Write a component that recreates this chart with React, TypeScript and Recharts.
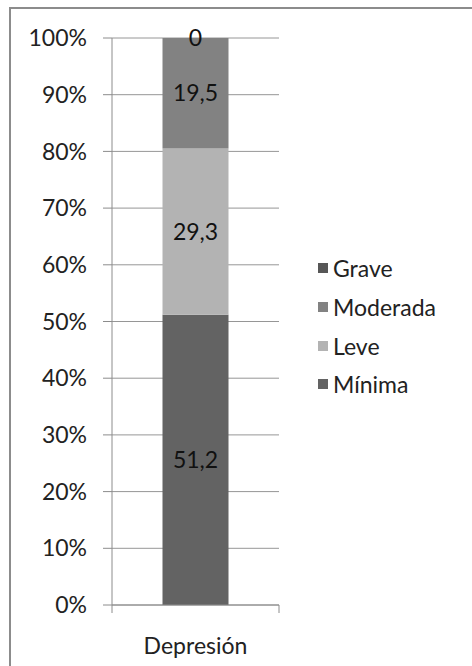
import { BarChart, Bar, XAxis, YAxis, CartesianGrid, LabelList } from 'recharts';

// ─── Data ────────────────────────────────────────────────────────────────────
const categories = ['Depresión'];
const minima = [51.2];
const leve = [29.3];
const moderada = [19.5];
const grave = [0];
const yTicks = [0, 10, 20, 30, 40, 50, 60, 70, 80, 90, 100];

const FONT = 'Lato, "Noto Sans", sans-serif';
const FS = 23;
const AXIS = '#8c8c8c';

// stacked bottom → top
const series = [
  { key: 'minima', name: 'Mínima', color: '#636363' },
  { key: 'leve', name: 'Leve', color: '#b3b3b3' },
  { key: 'moderada', name: 'Moderada', color: '#828282' },
  { key: 'grave', name: 'Grave', color: '#575757' },
];

const data = categories.map((cat, i) => ({
  pos: i + 0.5,
  cat,
  minima: minima[i],
  leve: leve[i],
  moderada: moderada[i],
  grave: grave[i],
}));

// boundaries get a tick mark, centres get the category name
const xTicks: number[] = [];
categories.forEach((_, i) => xTicks.push(i, i + 0.5));
xTicks.push(categories.length);

function XTick({ x, y, payload }: any) {
  const v = payload.value as number;
  if (Number.isInteger(v)) {
    return <line x1={x} x2={x} y1={y - 8} y2={y} stroke={AXIS} strokeWidth={1} />;
  }
  return (
    <text x={x} y={y + 32} textAnchor="middle" dominantBaseline="central" fill="#222" fontSize={FS} fontFamily={FONT}>
      {categories[Math.floor(v)]}
    </text>
  );
}

const fmt = (v: any) => String(v).replace('.', ',');

export default function App() {
  return (
    <div style={{ position: 'absolute', left: 0, top: 0, width: 472, height: 666, overflow: 'hidden', background: '#fff' }}>
      <div style={{ position: 'absolute', left: 9, top: 7, width: 520, height: 720, border: '2px solid #8c8c8c' }} />
      <BarChart
        width={472}
        height={666}
        data={data}
        margin={{ top: 38, right: 193, bottom: 31, left: 0 }}
        style={{ position: 'absolute', left: 0, top: 0 }}
      >
        <CartesianGrid vertical={false} stroke="#969696" />
        <XAxis
          dataKey="pos"
          type="number"
          domain={[0, categories.length]}
          ticks={xTicks}
          interval={0}
          height={30}
          tick={<XTick />}
          tickLine={false}
          tickSize={8}
          tickMargin={0}
          axisLine={{ stroke: AXIS }}
        />
        <YAxis
          domain={[0, 100]}
          ticks={yTicks}
          interval={0}
          width={112}
          tickSize={9}
          tickMargin={16}
          tickFormatter={(v) => `${v}%`}
          tick={{ fill: '#222', fontSize: FS, fontFamily: FONT }}
          tickLine={{ stroke: AXIS }}
          axisLine={{ stroke: AXIS }}
          allowDataOverflow
        />
        {series.map((s) => (
          <Bar
            key={s.key}
            dataKey={s.key}
            name={s.name}
            stackId="a"
            fill={s.color}
            barSize={66}
            minPointSize={s.key === 'grave' ? 1 : 0}
            isAnimationActive={false}
          >
            <LabelList dataKey={s.key} position="center" formatter={fmt} fill="#111" fontSize={FS} fontFamily={FONT} />
          </Bar>
        ))}
      </BarChart>
      <div style={{ position: 'absolute', left: 318, top: 249, fontFamily: FONT, fontSize: FS, color: '#222' }}>
        {[...series].reverse().map((s) => (
          <div key={s.key} style={{ display: 'flex', alignItems: 'center', height: 38.7 }}>
            <span style={{ display: 'inline-block', width: 10, height: 10, background: s.color, marginRight: 5 }} />
            {s.name}
          </div>
        ))}
      </div>
    </div>
  );
}
